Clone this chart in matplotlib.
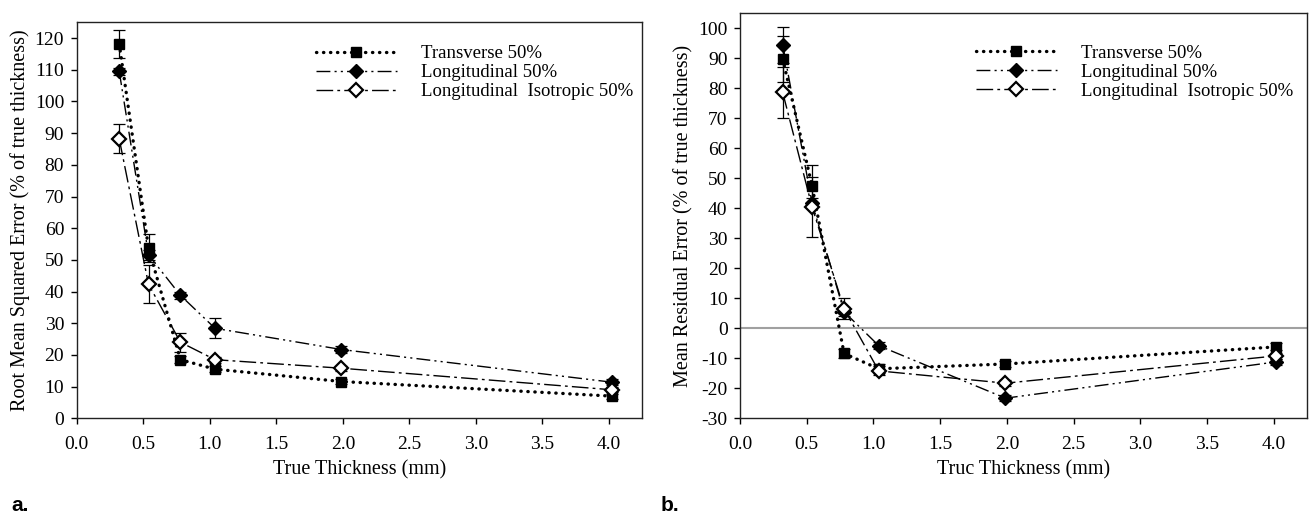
import matplotlib
matplotlib.use("Agg")
import matplotlib.pyplot as plt

plt.rcParams['font.family'] = ['Liberation Serif', 'DejaVu Serif']
plt.rcParams['axes.unicode_minus'] = False

# espesor real (mm)
grosor = [0.32, 0.54, 0.78, 1.04, 1.99, 4.02]

# panel a: RMSE (% del grosor real)
rmse_trans = [118.2, 53.7, 18.5, 15.5, 11.6, 7.0]
rmse_trans_err = [4.4, 4.5, 1.2, 1.0, 0.8, 0.8]
rmse_long = [109.5, 51.6, 38.8, 28.4, 21.7, 11.4]
rmse_long_err = [1.0, 1.5, 1.0, 3.2, 1.2, 1.0]
rmse_iso = [88.2, 42.3, 24.0, 18.5, 15.8, 9.0]
rmse_iso_err = [4.6, 6.0, 3.0, 1.0, 0.8, 0.8]

# panel b: error residual medio
mre_trans = [89.8, 47.5, -8.4, -13.5, -11.9, -6.2]
mre_trans_err = [7.6, 7.0, 1.5, 1.5, 1.0, 1.2]
mre_long = [94.5, 41.8, 5.5, -5.8, -23.3, -11.2]
mre_long_err = [6.0, 1.5, 1.5, 1.2, 1.0, 1.0]
mre_iso = [78.6, 40.5, 6.5, -14.2, -18.3, -9.2]
mre_iso_err = [8.6, 10.0, 3.5, 1.5, 1.0, 1.0]

etiquetas = ['Transverse 50%', 'Longitudinal 50%', 'Longitudinal  Isotropic 50%']

fig = plt.figure(figsize=(13.1, 5.15), dpi=100)
ax_a = fig.add_axes([0.0585, 0.1878, 0.4318, 0.769])
ax_b = fig.add_axes([0.5649, 0.1878, 0.4328, 0.7864])

# estilos de cada serie
estilos = [
    dict(ls=(0, (0.1, 2.0)), lw=2.4, marker='s', ms=6.8, mfc='black', mec='black', dash_capstyle='round'),
    dict(ls=(0, (10, 3, 1.5, 3, 1.5, 3)), lw=1.0, marker='D', ms=7.0, mfc='black', mec='black'),
    dict(ls=(0, (12, 3, 2, 3)), lw=1.0, marker='D', ms=7.0, mfc='white', mec='black', mew=1.6),
]


def dibujar(ax, series, errores):
    for ys, es, st, lab in zip(series, errores, estilos, etiquetas):
        ax.errorbar(grosor, ys, yerr=es, fmt='none', ecolor='black', elinewidth=0.9,
                    capsize=4.5, capthick=0.9, zorder=2)
        ax.plot(grosor, ys, color='black', label=lab, zorder=3, **st)
    ax.set_xlim(0, 4.25)
    ax.set_xticks([0.0, 0.5, 1.0, 1.5, 2.0, 2.5, 3.0, 3.5, 4.0])
    ax.set_xticklabels([f"{v:.1f}" for v in ax.get_xticks()])
    ax.tick_params(direction='out', length=4, width=1, labelsize=14, colors='black', pad=5)
    ax.tick_params(axis='x', pad=9)
    for s in ax.spines.values():
        s.set_linewidth(1.0)
        s.set_color('#222222')


dibujar(ax_a, [rmse_trans, rmse_long, rmse_iso], [rmse_trans_err, rmse_long_err, rmse_iso_err])
ax_a.set_ylim(0, 125)
ax_a.set_yticks(range(0, 121, 10))
ax_a.set_ylabel('Root Mean Squared Error (% of true thickness)', fontsize=14.5, labelpad=3)
ax_a.set_xlabel('True Thickness (mm)', fontsize=14.5, labelpad=5)
ax_a.legend(loc='upper left', bbox_to_anchor=(0.423, 0.942), frameon=False, fontsize=13.5,
            handlelength=4.3, handletextpad=1.3, labelspacing=0.1, borderaxespad=0, borderpad=0)

ax_b.axhline(0, color='#a0a0a0', lw=1.5, zorder=1)
dibujar(ax_b, [mre_trans, mre_long, mre_iso], [mre_trans_err, mre_long_err, mre_iso_err])
ax_b.set_ylim(-30, 105)
ax_b.set_yticks(range(-30, 101, 10))
ax_b.set_ylabel('Mean Residual Error (% of true thickness)', fontsize=14.5, labelpad=3)
ax_b.set_xlabel('Truc Thickness (mm)', fontsize=14.5, labelpad=5)
ax_b.legend(loc='upper left', bbox_to_anchor=(0.416, 0.922), frameon=False, fontsize=13.5,
            handlelength=4.3, handletextpad=1.3, labelspacing=0.1, borderaxespad=0, borderpad=0)

# letras de los paneles
fig.text(0.009, 0.008, 'a.', fontsize=15, fontweight='bold',
         family=['Liberation Sans Narrow', 'Liberation Sans', 'DejaVu Sans'])
fig.text(0.504, 0.008, 'b.', fontsize=15, fontweight='bold',
         family=['Liberation Sans Narrow', 'Liberation Sans', 'DejaVu Sans'])

plt.savefig('out.png', dpi=100)
